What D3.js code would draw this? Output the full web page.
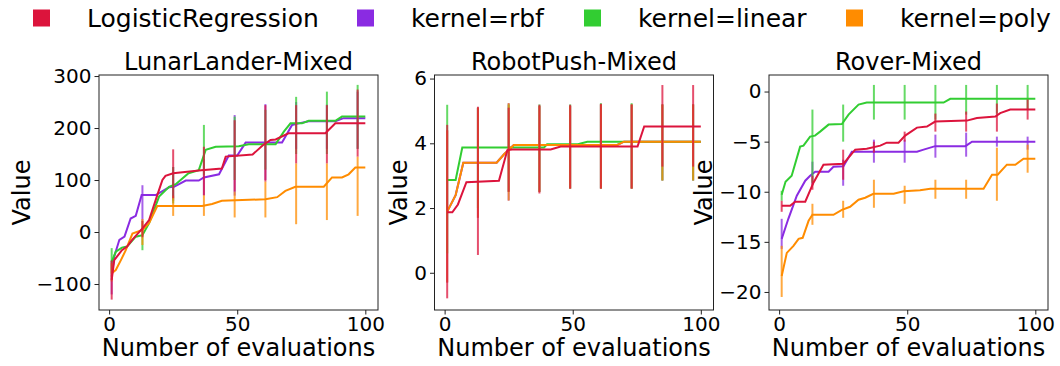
<!DOCTYPE html>
<html>
<head>
<meta charset="utf-8">
<script src="https://cdn.jsdelivr.net/npm/d3@7"></script>
<style>
  body { margin: 0; background: #fff; }
  svg { display: block; font-family: "DejaVu Sans", sans-serif; }
</style>
</head>
<body>
<svg id="chart" width="1060" height="366"></svg>
<script>
// series names + colours (legend order)
const seriesNames = ['LogisticRegression', 'kernel=rbf', 'kernel=linear', 'kernel=poly'];
const seriesColors = ['#dc143c', '#8a2be2', '#32cd32', '#ff8c00'];

// x positions of the error bars
const evalX = [1, 13, 25, 37, 49, 61, 73, 85, 97];
const xTicks = [0, 50, 100];

// LunarLander-Mixed : [evaluation, mean]
const lunarLR = [[1,-92],[2,-54],[5,-35],[7,-28],[9,-15],[13,7],[15.6,23],[18.8,71],[20.8,100],[22,108],[25,113],[36,119],[44,122],[45.5,145],[56,149],[60,167],[63,177],[65,178],[70,190],[84.4,190],[88.3,209],[100,209]];
const lunarRbf = [[1,-86],[2,-47],[4,-15],[6,-9],[8.4,26],[10.4,31],[12.7,71],[18.2,71],[23.4,86],[25.3,87],[29.9,99],[35,99],[37,105],[42.9,111],[46.7,147],[50,147],[53.3,172],[67.5,172],[71.4,206],[74,209],[77.9,213],[88.3,213],[91.5,219],[100,219]];
const lunarLinear = [[1,-57],[2.6,-38],[5,-30],[7,-28],[10.4,-9],[13,-6],[15.6,17],[19.5,68],[23.4,87],[26,92],[31,113],[35,119],[37.7,158],[41.6,164],[50.6,165],[54.5,169],[65,169],[68.2,193],[70.8,209],[75.3,209],[77.9,214],[88.3,214],[90.9,222],[100,222]];
const lunarPoly = [[1,-79],[2.6,-73],[4.6,-54],[6.5,-35],[9.1,-3],[13,4],[15.6,17],[18.8,50],[36.3,50],[40.2,54],[44,60],[61,63],[65.6,67],[68.8,79],[72.7,87],[83.8,87],[87,105],[90.9,105],[93.5,111],[96.1,124],[100,124]];
// error bars at evalX : [low, high]
const lunarLRErr = [[-130,-55],[-10,22],[65,159],[71,164],[78,215],[97,244],[132,244],[132,244],[145,274]];
const lunarRbfErr = [[-120,-55],[23,90],[60,125],[70,140],[70,225],[100,246],[160,250],[160,245],[160,270]];
const lunarLinearErr = [[-80,-31],[-35,22],[55,125],[110,206],[100,222],[120,235],[150,260],[150,270],[160,283]];
const lunarPolyErr = [[-95,-60],[-25,25],[31,70],[31,71],[28,78],[28,97],[15,132],[23,132],[31,145]];

// RobotPush-Mixed
const robotLR = [[1,1.87],[3,1.87],[5.2,2.11],[8.5,2.8],[21.2,2.84],[24.5,3.79],[26.4,3.81],[41.4,3.81],[45.3,3.9],[75.3,3.9],[77.9,4.52],[100,4.52]];
const robotRbf = [[1,1.89],[4.3,2.4],[7.3,3.4],[20.3,3.4],[23.2,3.66],[27,3.95],[67.4,3.95],[70,4.05],[100,4.05]];
const robotLinear = [[1,2.87],[4.3,2.87],[6.9,3.87],[38.8,3.87],[40,3.97],[52,3.97],[55.7,4.05],[100,4.05]];
const robotPoly = [[1,1.89],[4.3,2.4],[7.3,3.4],[20.3,3.4],[23.2,3.66],[27,3.95],[67.4,3.95],[70,4.05],[100,4.05]];
const robotLRErr = [[-0.79,4.57],[0.55,5.13],[2.5,5.1],[2.45,5.19],[2.6,5.19],[2.6,5.22],[2.6,5.2],[3.28,5.8],[3.28,5.8]];
const robotRbfErr = [[-0.3,4.4],[1.7,5.1],[2.23,5.24],[2.5,5.15],[2.6,5.15],[2.6,5.2],[2.6,5.2],[2.85,5.2],[2.85,5.2]];
const robotLinearErr = [[0.6,5.19],[2.0,5.1],[2.5,5.2],[2.5,5.2],[2.6,5.2],[2.6,5.24],[2.6,5.24],[2.85,5.2],[2.85,5.2]];
const robotPolyErr = [[-0.3,4.4],[1.7,5.1],[2.23,5.24],[2.5,5.15],[2.6,5.15],[2.6,5.2],[2.6,5.2],[2.85,5.2],[2.85,5.2]];

// Rover-Mixed
const roverLR = [[1,-11.4],[4.3,-11.4],[6.25,-11.0],[10.2,-11.0],[13.4,-9.1],[17.3,-7.3],[25.1,-7.2],[29.7,-5.8],[34.2,-5.7],[39.5,-5.4],[42,-5.1],[46.6,-5.1],[49.2,-4.4],[53.8,-3.6],[57.7,-3.5],[60.9,-3.0],[73.3,-2.9],[77.2,-2.65],[84.4,-2.5],[86.3,-2.15],[90.2,-1.8],[100,-1.8]];
const roverRbf = [[1,-14.7],[3.6,-12.7],[6.9,-10.4],[10.2,-8.9],[12.1,-8.4],[14.1,-8.0],[19.3,-8.0],[21.2,-7.5],[25.1,-7.45],[28.4,-6.0],[53.8,-6.0],[56.4,-5.8],[60.9,-5.45],[72.7,-5.45],[75.3,-5.0],[100,-5.0]];
const roverLinear = [[1,-10.3],[2.5,-9.0],[4.9,-8.4],[8.2,-5.5],[9.5,-5.4],[12.1,-4.5],[14,-4.4],[16,-4],[19.3,-3.3],[24.5,-3.25],[27.1,-2.3],[31,-1.3],[34.2,-1.1],[64.2,-1.1],[66.8,-0.73],[100,-0.73]];
const roverPoly = [[1,-18.4],[3,-16.1],[5.6,-15.4],[7.6,-14.7],[9.2,-14.6],[11.5,-12.9],[13,-12.3],[21.2,-12.3],[24.5,-11.8],[27.7,-11.5],[31,-10.8],[33.6,-10.6],[36.8,-10.2],[44.7,-10.2],[48.6,-9.95],[55,-9.85],[59,-9.7],[79.8,-9.7],[83.1,-8.3],[85.3,-8.3],[88.9,-7.3],[92.2,-7.3],[95.4,-6.7],[100,-6.7]];
const roverLRErr = [[-12,-10.9],[-9.8,-8.4],[-8.8,-5.8],[-6.1,-5],[-5,-4],[-4,-2.2],[-4,-2],[-4,-1.2],[-2.8,-0.8]];
const roverRbfErr = [[-15.7,-12.7],[-9.3,-7],[-9.4,-6.8],[-7.1,-4.8],[-7.1,-4.8],[-6.6,-4.3],[-6.5,-4.1],[-5.5,-4.5],[-5.8,-4.5]];
const roverLinearErr = [[-10.9,-9.9],[-9.1,-1.8],[-5,-1.3],[-2.8,0.66],[-2.8,0.66],[-2.8,0.66],[-2.3,0.66],[-2.2,0.66],[-1.8,0.66]];
const roverPolyErr = [[-20.5,-15.4],[-13.3,-11.2],[-12.6,-10.9],[-11.6,-8.8],[-11.2,-9.4],[-10.7,-8.8],[-10.7,-8.8],[-10.9,-5.6],[-8.1,-5.3]];

const panelTitles = ['LunarLander-Mixed', 'RobotPush-Mixed', 'Rover-Mixed'];
const lunarTicks = [-100, 0, 100, 200, 300];
const robotTicks = [0, 2, 4, 6];
const roverTicks = [-20, -15, -10, -5, 0];

const panels = [
  { title: panelTitles[0], left: 99, yDomain: [-150, 302], yTicks: lunarTicks,
    lines: [lunarLR, lunarRbf, lunarLinear, lunarPoly], errs: [lunarLRErr, lunarRbfErr, lunarLinearErr, lunarPolyErr] },
  { title: panelTitles[1], left: 434.5, yDomain: [-1.15, 6.11], yTicks: robotTicks,
    lines: [robotLR, robotRbf, robotLinear, robotPoly], errs: [robotLRErr, robotRbfErr, robotLinearErr, robotPolyErr] },
  { title: panelTitles[2], left: 769, yDomain: [-21.8, 1.65], yTicks: roverTicks,
    lines: [roverLR, roverRbf, roverLinear, roverPoly], errs: [roverLRErr, roverRbfErr, roverLinearErr, roverPolyErr] }
];

const svg = d3.select('#chart');
const plotW = 279, plotTop = 75, plotBottom = 310;
const drawOrder = [1, 2, 3, 0]; // red ends up on top

panels.forEach((p) => {
  const x = d3.scaleLinear().domain([-3.95, 104.95]).range([p.left, p.left + plotW]);
  const y = d3.scaleLinear().domain(p.yDomain).range([plotBottom, plotTop]);
  const g = svg.append('g');

  const line = d3.line().x(d => x(d[0])).y(d => y(d[1]));

  drawOrder.forEach(si => {
    g.append('path')
      .datum(p.lines[si])
      .attr('fill', 'none')
      .attr('stroke', seriesColors[si])
      .attr('stroke-width', 2)
      .attr('d', line);

    g.selectAll(null)
      .data(p.errs[si])
      .enter().append('line')
      .attr('x1', (d, i) => x(evalX[i]))
      .attr('x2', (d, i) => x(evalX[i]))
      .attr('y1', d => y(d[0]))
      .attr('y2', d => y(d[1]))
      .attr('stroke', seriesColors[si])
      .attr('stroke-width', 2)
      .attr('stroke-opacity', 0.75);
  });

  // axes
  const xAxis = d3.axisBottom(x).tickValues(xTicks).tickSize(4.5).tickPadding(2).tickFormat(d3.format('d'));
  const yAxis = d3.axisLeft(y).tickValues(p.yTicks).tickSize(4.5).tickPadding(3)
    .tickFormat(d => d < 0 ? '\u2212' + Math.abs(d) : d);

  const gx = svg.append('g').attr('transform', `translate(0,${plotBottom})`).call(xAxis);
  const gy = svg.append('g').attr('transform', `translate(${p.left},0)`).call(yAxis);
  [gx, gy].forEach(a => {
    a.select('.domain').remove();
    a.selectAll('.tick line').attr('stroke', '#222');
    a.selectAll('.tick text').attr('fill', '#000')
      .style('font-family', '"DejaVu Sans", sans-serif').style('font-size', '20px');
  });

  // frame
  svg.append('rect')
    .attr('x', p.left).attr('y', plotTop)
    .attr('width', plotW).attr('height', plotBottom - plotTop)
    .attr('fill', 'none').attr('stroke', '#222').attr('stroke-width', 1);

  const cx = p.left + plotW / 2;
  svg.append('text').attr('x', cx).attr('y', 70)
    .attr('text-anchor', 'middle').style('font-size', '24px').text(p.title);
  svg.append('text').attr('x', cx).attr('y', 356)
    .attr('text-anchor', 'middle').style('font-size', '24px').text('Number of evaluations');

  // y label sits just left of the widest tick label
  const labelX = gy.node().getBBox().x + p.left - 7;
  svg.append('text')
    .attr('transform', `translate(${labelX},${(plotTop + plotBottom) / 2}) rotate(-90)`)
    .attr('text-anchor', 'middle').style('font-size', '24px').text('Value');
});

// legend
const legendX = [33, 357, 584, 846];
const legend = svg.append('g');
seriesNames.forEach((name, i) => {
  legend.append('rect')
    .attr('x', legendX[i]).attr('y', 9.5)
    .attr('width', 17).attr('height', 17)
    .attr('fill', seriesColors[i]);
  legend.append('text')
    .attr('x', legendX[i] + 54).attr('y', 26.5)
    .style('font-size', '25px').text(name);
});
</script>
</body>
</html>
